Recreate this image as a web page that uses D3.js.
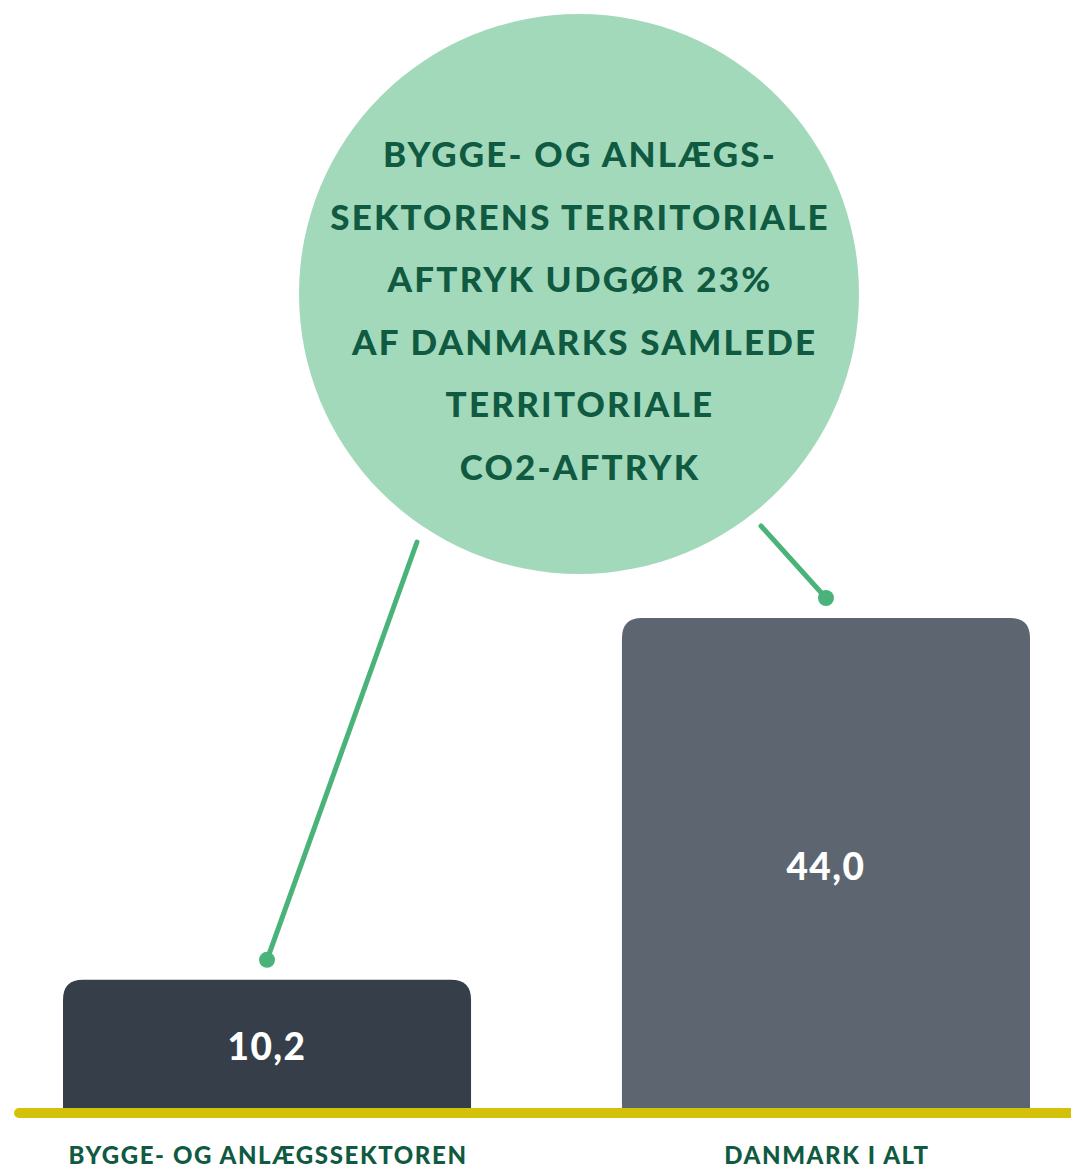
<!DOCTYPE html>
<html>
<head>
<meta charset="utf-8">
<script src="https://cdn.jsdelivr.net/npm/d3@7"></script>
<style>
  body { margin: 0; background: #fff; }
  text { font-family: Lato, "Open Sans", sans-serif; font-weight: 900; }
</style>
</head>
<body>
<div id="chart"></div>
<script>
const width = 1071
const height = 1168

// Data
const categories = ["BYGGE- OG ANLÆGSSEKTOREN", "DANMARK I ALT"]
const values = [10.2, 44.0]
const barColors = ["#353e49", "#5d6670"]
const bubbleLines = ["BYGGE- OG ANLÆGS-", "SEKTORENS TERRITORIALE", "AFTRYK UDGØR 23%", " AF DANMARKS SAMLEDE", "TERRITORIALE", "CO2-AFTRYK"]

const baseline = 1108
const svg = d3.select("div#chart").append("svg").attr("width", width).attr("height", height)

// Scales
const x = d3.scaleBand().domain(categories).range([63, 1030]).paddingInner(0.27).paddingOuter(0)
const y = d3.scaleLinear().domain([0, 44]).range([1089, 618])

// Bars with rounded tops
const r = 20
function barPath(x0, w, top, bottom) {
    return `M${x0},${bottom} V${top + r} Q${x0},${top} ${x0 + r},${top} H${x0 + w - r} Q${x0 + w},${top} ${x0 + w},${top + r} V${bottom} Z`
}
const barGroup = svg.append("g").attr("id", "bars")
barGroup.selectAll("path")
    .data(values)
    .enter().append("path")
    .attr("d", (d, i) => barPath(x(categories[i]), x.bandwidth(), y(d), baseline + 2))
    .attr("fill", (d, i) => barColors[i])

// Bar value labels
barGroup.selectAll("text")
    .data(values)
    .enter().append("text")
    .attr("x", (d, i) => x(categories[i]) + x.bandwidth() / 2)
    .attr("y", d => (y(d) + baseline) / 2 + 2)
    .attr("text-anchor", "middle")
    .attr("dominant-baseline", "central")
    .attr("fill", "#ffffff")
    .attr("font-size", 37)
    .attr("letter-spacing", 1.5)
    .text(d => d.toFixed(1).replace(".", ","))

// Baseline
svg.append("line")
    .attr("x1", 19).attr("x2", width + 10)
    .attr("y1", baseline + 5).attr("y2", baseline + 5)
    .attr("stroke", "#d4c20a")
    .attr("stroke-width", 10)
    .attr("stroke-linecap", "round")

// Category labels
svg.append("g").selectAll("text")
    .data(categories)
    .enter().append("text")
    .attr("x", d => x(d) + x.bandwidth() / 2 + 1)
    .attr("y", 1164)
    .attr("text-anchor", "middle")
    .attr("fill", "#0f5a41")
    .attr("font-size", 24)
    .attr("letter-spacing", 1.6)
    .text(d => d)

// Bubble
const cx = 579, cy = 294, cr = 280
svg.append("circle")
    .attr("cx", cx).attr("cy", cy).attr("r", cr)
    .attr("fill", "#a3d9bb")

svg.append("g").selectAll("text")
    .data(bubbleLines)
    .enter().append("text")
    .attr("x", cx + 1)
    .attr("y", (d, i) => 153 + i * 62.5)
    .attr("text-anchor", "middle")
    .attr("dominant-baseline", "central")
    .attr("fill", "#0f5a41")
    .attr("font-size", 35)
    .attr("letter-spacing", 2.2)
    .attr("xml:space", "preserve")
    .text(d => d)

// Leader lines from bubble to bars
const leaders = [
    {start: [417, 542], bar: 0},
    {start: [761, 526], bar: 1}
]
const leaderGroup = svg.append("g").attr("id", "leaders")
leaders.forEach(l => {
    const dx = x(categories[l.bar]) + x.bandwidth() / 2
    const dy = y(values[l.bar]) - 20
    leaderGroup.append("line")
        .attr("x1", l.start[0]).attr("y1", l.start[1])
        .attr("x2", dx).attr("y2", dy)
        .attr("stroke", "#4ab37a")
        .attr("stroke-width", 5)
        .attr("stroke-linecap", "round")
    leaderGroup.append("circle")
        .attr("cx", dx).attr("cy", dy).attr("r", 8)
        .attr("fill", "#4ab37a")
})
</script>
</body>
</html>
